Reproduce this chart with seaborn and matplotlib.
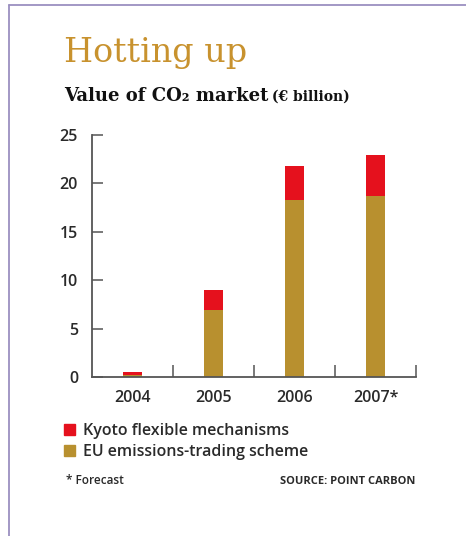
import numpy as np
import pandas as pd
import seaborn as sns
import matplotlib.pyplot as plt
from matplotlib.lines import Line2D
from matplotlib.patches import Patch

# ── Data (€ billion) ──
years = ["2004", "2005", "2006", "2007*"]
eu_ets = [0.2, 6.9, 18.3, 18.7]
kyoto = [0.3, 2.1, 3.5, 4.2]

df = pd.DataFrame({"year": years, "eu": eu_ets, "kyoto": kyoto})
df["total"] = df["eu"] + df["kyoto"]

RED = "#e5111d"
GOLD = "#b8902f"
TITLE_GOLD = "#c8922e"
AXIS = "#555555"
TEXT = "#2a2a2a"

sns.set_style("white")
plt.rcParams["font.family"] = ["Open Sans", "DejaVu Sans"]

W, H = 466, 536
fig = plt.figure(figsize=(W / 100, H / 100), dpi=100)
ax = fig.add_axes([92 / W, 1 - 377 / H, 324 / W, 242 / H])

# stacked bars: total (red) behind, EU scheme (gold) in front
sns.barplot(data=df, x="year", y="total", color=RED, width=0.24,
            saturation=1, linewidth=0, ax=ax)
sns.barplot(data=df, x="year", y="eu", color=GOLD, width=0.24,
            saturation=1, linewidth=0, ax=ax)

ax.set_xlim(-0.5, 3.5)
ax.set_ylim(0, 25)
ax.set_xlabel("")
ax.set_ylabel("")

for side in ["top", "right"]:
    ax.spines[side].set_visible(False)
for side in ["left", "bottom"]:
    ax.spines[side].set_color(AXIS)
    ax.spines[side].set_linewidth(1.3)

ax.set_yticks([0, 5, 10, 15, 20, 25])
ax.tick_params(axis="y", left=True, direction="in", length=8, width=1.1,
               color=AXIS, pad=10, labelsize=11.5, labelcolor=TEXT)
ax.tick_params(axis="x", which="major", bottom=False, length=0, pad=9,
               labelsize=11.5, labelcolor=TEXT)
ax.set_xticks([0.5, 1.5, 2.5, 3.5], minor=True)
ax.tick_params(axis="x", which="minor", bottom=True, direction="in",
               length=9, width=1.1, color=AXIS)
for lab in ax.get_xticklabels() + ax.get_yticklabels():
    lab.set_fontweight("semibold")

# legend
handles = [Patch(color=RED), Patch(color=GOLD)]
ax.legend(handles, ["Kyoto flexible mechanisms", "EU emissions-trading scheme"],
          loc="upper left", bbox_to_anchor=(64 / W, 1 - 423 / H),
          bbox_transform=fig.transFigure, frameon=False,
          handlelength=0.7, handleheight=0.7, handletextpad=0.5,
          borderpad=0, borderaxespad=0, labelspacing=0.3,
          prop={"size": 11.5, "weight": "semibold"}, labelcolor=TEXT)

# titles
fig.text(64 / W, 1 - 62 / H, "Hotting up", family="DejaVu Serif",
         fontsize=24, color=TITLE_GOLD, va="baseline")
fig.text(64 / W, 1 - 101 / H, "Value of CO₂ market", family="DejaVu Serif",
         fontsize=13, fontweight="bold", color="#111111", va="baseline")
fig.text(272 / W, 1 - 101 / H, "(€ billion)", family="DejaVu Serif",
         fontsize=10, fontweight="bold", color="#111111", va="baseline")

# footnotes
fig.text(66 / W, 1 - 484 / H, "* Forecast", fontsize=8.5, fontweight="semibold",
         color=TEXT, va="baseline")
fig.text(415 / W, 1 - 484 / H, "SOURCE: POINT CARBON", fontsize=8,
         fontweight="bold", color=TEXT, va="baseline", ha="right")

# frame (top and left edges)
fig.add_artist(Line2D([9 / W, 1], [1 - 5 / H, 1 - 5 / H],
                      transform=fig.transFigure, color="#9b90c0", lw=1.3))
fig.add_artist(Line2D([9 / W, 9 / W], [0, 1 - 5 / H],
                      transform=fig.transFigure, color="#9b90c0", lw=1.3))

fig.savefig("out.png", dpi=100, facecolor="white")
